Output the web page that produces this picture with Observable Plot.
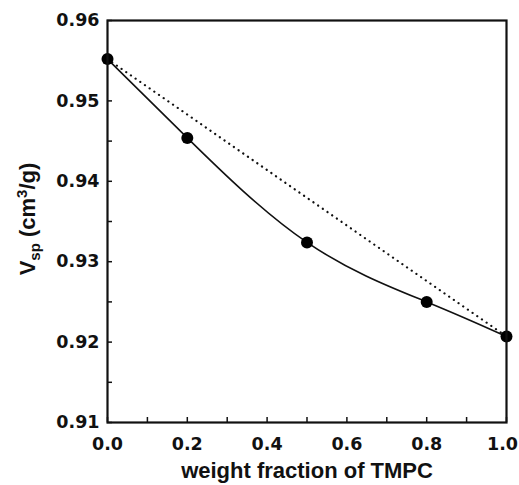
<!DOCTYPE html>
<html>
<head>
<meta charset="utf-8">
<script src="https://cdn.jsdelivr.net/npm/d3@7"></script>
<script src="https://cdn.jsdelivr.net/npm/@observablehq/plot@0.6"></script>
<style>
  html, body { margin: 0; padding: 0; background: #fff; }
  #chart svg { display: block; }
</style>
</head>
<body>
<div id="chart"></div>
<script>
// Data
const fraction = [0.0, 0.2, 0.5, 0.8, 1.0];
const vsp = [0.9552, 0.9454, 0.9324, 0.9250, 0.9207];
// ideal (additive) line between the pure components
const idealFraction = [0.0, 1.0];
const idealVsp = [0.9552, 0.9207];
// axis ticks
const xTicks = [0.0, 0.2, 0.4, 0.6, 0.8, 1.0];
const xMinor = [0.0, 0.1, 0.2, 0.3, 0.4, 0.5, 0.6, 0.7, 0.8, 0.9, 1.0];
const yTicks = [0.91, 0.92, 0.93, 0.94, 0.95, 0.96];
const yMinor = [0.91, 0.915, 0.92, 0.925, 0.93, 0.935, 0.94, 0.945, 0.95, 0.955, 0.96];
const xLabel = "weight fraction of TMPC";

const points = fraction.map((f, i) => ({f, v: vsp[i]}));
const ideal = idealFraction.map((f, i) => ({f, v: idealVsp[i]}));

const font = "'Liberation Sans', Arial, sans-serif";
const tickFont = "'DejaVu Sans', sans-serif";

const plot = Plot.plot({
  width: 519,
  height: 485,
  marginLeft: 107,
  marginRight: 13,
  marginTop: 20,
  marginBottom: 63,
  style: {fontFamily: font, fontWeight: "bold", color: "#111", background: "#fff"},
  x: {domain: [0, 1]},
  y: {domain: [0.91, 0.96]},
  marks: [
    Plot.axisX(xMinor, {tickSize: -5, tickFormat: () => "", label: null, strokeWidth: 1.5}),
    Plot.axisY(yMinor, {tickSize: -5, tickFormat: () => "", label: null, strokeWidth: 1.5}),
    Plot.axisX(xTicks, {tickSize: 0, tickPadding: 15, tickFormat: d3.format(".1f"), fontSize: 17.5, fontFamily: tickFont, label: xLabel, labelAnchor: "center", labelArrow: "none", labelOffset: 55}),
    Plot.axisY(yTicks, {tickSize: 0, tickPadding: 8, tickFormat: d3.format(".2f"), fontSize: 17.5, fontFamily: tickFont, label: null}),
    Plot.line(ideal, {x: "f", y: "v", stroke: "#111", strokeWidth: 2.2, strokeDasharray: "0.1,5.6", strokeLinecap: "round"}),
    Plot.line(points, {x: "f", y: "v", stroke: "#111", strokeWidth: 1.6, curve: "natural"}),
    Plot.dot(points, {x: "f", y: "v", r: 6, fill: "#000", stroke: "none"}),
    Plot.frame({stroke: "#111", strokeWidth: 2.2})
  ]
});

// style x-axis label
d3.select(plot).selectAll("g[aria-label='x-axis label'] text")
  .attr("font-size", 22).attr("font-family", font);

// keep the last x tick label inside the picture
const xt = d3.select(plot).selectAll("g[aria-label='x-axis tick label'] text").nodes();
if (xt.length) d3.select(xt[xt.length - 1]).attr("dx", -4);

// rotated y-axis label with subscript and superscript
const yl = d3.select(plot).append("text")
  .attr("transform", "translate(35,219) rotate(-90)")
  .attr("text-anchor", "middle")
  .attr("font-family", font)
  .attr("font-weight", "bold")
  .attr("font-size", 22)
  .attr("fill", "#111");
yl.append("tspan").text("V");
yl.append("tspan").attr("font-size", 15).attr("dy", 5).text("sp");
yl.append("tspan").attr("dy", -5).text(" (cm");
yl.append("tspan").attr("font-size", 15).attr("dy", -8).text("3");
yl.append("tspan").attr("dy", 8).text("/g)");

document.getElementById("chart").appendChild(plot);
</script>
</body>
</html>
